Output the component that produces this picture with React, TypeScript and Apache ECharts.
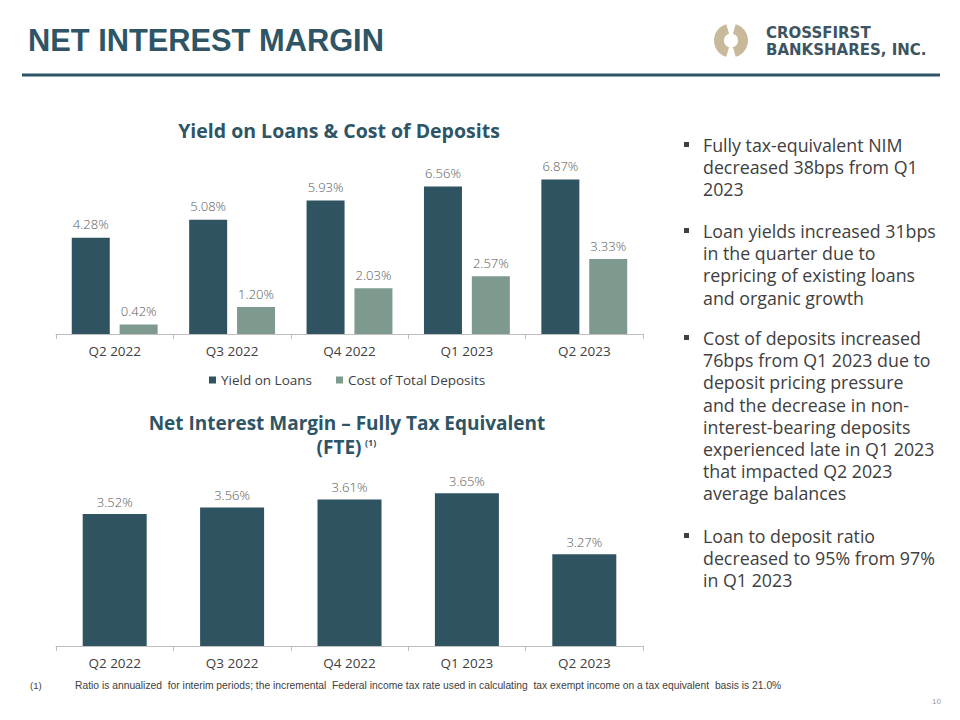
import React, { useEffect, useRef } from "react";
import * as echarts from "echarts";

const categories = ["Q2 2022", "Q3 2022", "Q4 2022", "Q1 2023", "Q2 2023"];
const yieldOnLoans = [4.28, 5.08, 5.93, 6.56, 6.87];
const costOfTotalDeposits = [0.42, 1.2, 2.03, 2.57, 3.33];
const nimFte = [3.52, 3.56, 3.61, 3.65, 3.27];
const seriesNames = ["Yield on Loans", "Cost of Total Deposits", "Net Interest Margin (FTE)"];

const pageTitle = "NET INTEREST MARGIN";
const chart1Title = "Yield on Loans & Cost of Deposits";
const chart2TitleLine1 = "Net Interest Margin – Fully Tax Equivalent";
const chart2TitleLine2 = "(FTE)";
const chart2TitleSup = "(1)";
const logoLine1 = "CROSSFIRST";
const logoLine2 = "BANKSHARES, INC.";
const footnoteMark = "(1)";
const footnoteText =
  "Ratio is annualized  for interim periods; the incremental  Federal income tax rate used in calculating  tax exempt income on a tax equivalent  basis is 21.0%";
const pageNumber = "10";

const bullets: string[][] = [
  ["Fully tax-equivalent NIM", "decreased 38bps from Q1", "2023"],
  ["Loan yields increased 31bps", "in the quarter due to", "repricing of existing loans", "and organic growth"],
  [
    "Cost of deposits increased",
    "76bps from Q1 2023 due to",
    "deposit pricing pressure",
    "and the decrease in non-",
    "interest-bearing deposits",
    "experienced late in Q1 2023",
    "that impacted Q2 2023",
    "average balances",
  ],
  ["Loan to deposit ratio", "decreased to 95% from 97%", "in Q1 2023"],
];
const bulletFirstLineY = [145, 231, 338, 536];

const DARK = "#2f5361";
const LIGHT = "#7e9a8e";
const TITLE = "#2e5565";
const FONT = "'Open Sans', 'Noto Sans', sans-serif";

export default function App() {
  const ref = useRef<HTMLDivElement>(null);

  useEffect(() => {
    document.body.style.margin = "0";
    if (!ref.current) return;
    const chart = echarts.init(ref.current, undefined, { renderer: "svg" });

    const label = (dist: number) => ({
      show: true,
      position: "top" as const,
      distance: dist,
      fontFamily: FONT,
      fontSize: 13,
      fontWeight: 300,
      color: "#595959",
      formatter: (p: any) => Number(p.value).toFixed(2) + "%",
    });

    const xAxisBase = (gridIndex: number) => ({
      type: "category" as const,
      gridIndex,
      data: categories,
      axisLine: { lineStyle: { color: "#bfbfbf", width: 1 } },
      axisTick: { show: true, length: 5, lineStyle: { color: "#bfbfbf" } },
      axisLabel: { margin: 10, fontSize: 13.5, color: "#404040", fontFamily: FONT },
    });

    const lineH = 22.2;
    const bulletGraphics: any[] = [];
    bullets.forEach((lines, i) => {
      const y0 = bulletFirstLineY[i];
      bulletGraphics.push({
        type: "rect",
        shape: { x: 684, y: y0 - 3, width: 5, height: 5 },
        style: { fill: "#404040" },
      });
      bulletGraphics.push({
        type: "text",
        x: 703,
        y: y0 - lineH / 2,
        style: {
          text: lines.join("\n"),
          font: `17.8px ${FONT}`,
          fill: "#404040",
          lineHeight: lineH,
          verticalAlign: "top",
          align: "left",
        },
      });
    });

    const option: any = {
      animation: false,
      textStyle: { fontFamily: FONT },
      legend: {
        data: [seriesNames[0], seriesNames[1]],
        left: 204,
        top: 368,
        icon: "rect",
        itemWidth: 7,
        itemHeight: 7,
        itemGap: 24,
        textStyle: { fontSize: 13.5, color: "#404040", fontFamily: FONT },
      },
      grid: [
        { left: 56, width: 587, top: 154, height: 180 },
        { left: 56, width: 587, top: 469, height: 177 },
      ],
      xAxis: [xAxisBase(0), xAxisBase(1)],
      yAxis: [
        { type: "value", gridIndex: 0, min: 0, max: 8, show: false },
        { type: "value", gridIndex: 1, min: 2.7, max: 3.8, show: false },
      ],
      series: [
        {
          name: seriesNames[0],
          type: "bar",
          xAxisIndex: 0,
          yAxisIndex: 0,
          data: yieldOnLoans,
          barWidth: 38,
          barGap: "26%",
          itemStyle: { color: DARK },
          label: label(7),
        },
        {
          name: seriesNames[1],
          type: "bar",
          xAxisIndex: 0,
          yAxisIndex: 0,
          data: costOfTotalDeposits,
          barWidth: 38,
          barGap: "26%",
          itemStyle: { color: LIGHT },
          label: label(7),
        },
        {
          name: seriesNames[2],
          type: "bar",
          xAxisIndex: 1,
          yAxisIndex: 1,
          data: nimFte,
          barWidth: 64,
          itemStyle: { color: DARK },
          label: label(6),
        },
      ],
      graphic: [
        {
          type: "text",
          x: 28,
          y: 40,
          style: {
            text: pageTitle,
            font: "bold 30.8px 'Liberation Sans', Arial, sans-serif",
            fill: TITLE,
            verticalAlign: "middle",
            align: "left",
          },
        },
        {
          type: "rect",
          shape: { x: 22, y: 73.5, width: 918, height: 3 },
          style: { fill: TITLE },
        },
        {
          type: "sector",
          shape: {
            cx: 731,
            cy: 40.5,
            r: 17,
            r0: 7,
            startAngle: Math.PI / 2 + 0.28,
            endAngle: (3 * Math.PI) / 2 - 0.28,
            clockwise: true,
          },
          style: { fill: "#c9b99b" },
        },
        {
          type: "sector",
          shape: {
            cx: 731,
            cy: 40.5,
            r: 17,
            r0: 7,
            startAngle: -Math.PI / 2 + 0.28,
            endAngle: Math.PI / 2 - 0.28,
            clockwise: true,
          },
          style: { fill: "#c9b99b" },
        },
        {
          type: "text",
          x: 766,
          y: 33,
          style: {
            text: logoLine1,
            font: "bold 15px 'DejaVu Sans', sans-serif",
            fill: "#3d5463",
            verticalAlign: "middle",
          },
        },
        {
          type: "text",
          x: 766,
          y: 50,
          style: {
            text: logoLine2,
            font: "bold 15px 'DejaVu Sans', sans-serif",
            fill: "#3d5463",
            verticalAlign: "middle",
          },
        },
        {
          type: "text",
          x: 339,
          y: 130,
          style: {
            text: chart1Title,
            font: `bold 19.5px ${FONT}`,
            fill: TITLE,
            align: "center",
            verticalAlign: "middle",
          },
        },
        {
          type: "text",
          x: 347,
          y: 422.5,
          style: {
            text: chart2TitleLine1,
            font: `bold 19px ${FONT}`,
            fill: TITLE,
            align: "center",
            verticalAlign: "middle",
          },
        },
        {
          type: "text",
          x: 339,
          y: 446.5,
          style: {
            text: chart2TitleLine2,
            font: `bold 19px ${FONT}`,
            fill: TITLE,
            align: "center",
            verticalAlign: "middle",
          },
        },
        {
          type: "text",
          x: 365,
          y: 442,
          style: {
            text: chart2TitleSup,
            font: `bold 9px ${FONT}`,
            fill: TITLE,
            align: "left",
            verticalAlign: "middle",
          },
        },
        ...bulletGraphics,
        {
          type: "text",
          x: 30,
          y: 685,
          style: {
            text: footnoteMark,
            font: "9.5px 'Liberation Sans', sans-serif",
            fill: "#404040",
            verticalAlign: "middle",
          },
        },
        {
          type: "text",
          x: 75,
          y: 685,
          style: {
            text: footnoteText,
            font: "10.3px 'Liberation Sans', sans-serif",
            fill: "#404040",
            verticalAlign: "middle",
          },
        },
        {
          type: "text",
          x: 941,
          y: 701,
          style: {
            text: pageNumber,
            font: "8px 'Liberation Sans', sans-serif",
            fill: "#999999",
            align: "right",
            verticalAlign: "middle",
          },
        },
      ],
    };

    chart.setOption(option);
    return () => chart.dispose();
  }, []);

  return <div ref={ref} style={{ width: 960, height: 720, background: "#ffffff" }} />;
}
